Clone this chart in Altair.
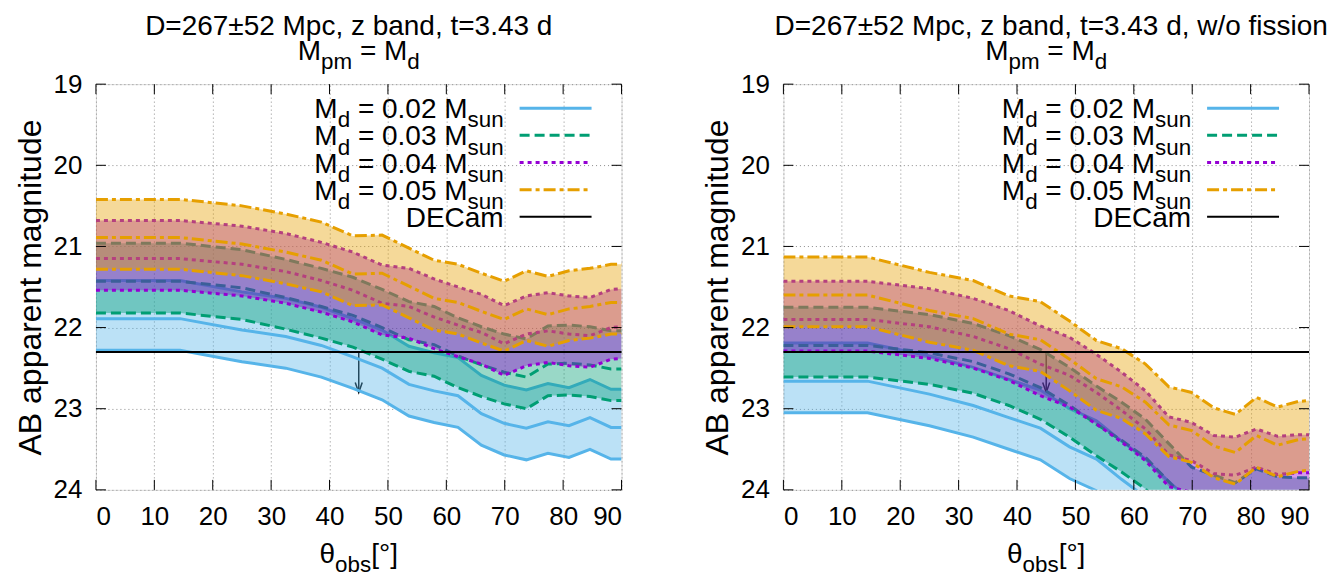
import altair as alt
import pandas as pd

# ---------------- data ----------------
THETA = [0, 14.4, 25.0, 32.5, 38.6, 44.0, 49.0, 53.6, 57.9, 62.0, 66.0, 69.9,
         73.7, 77.4, 81.0, 84.6, 88.2, 90]
MODELS = ["0.02", "0.03", "0.04", "0.05"]

# left panel (with fission): D=215 (bright), 267 (center), 319 (faint) Mpc
L02_BRIGHT = [21.42, 21.42, 21.56, 21.64, 21.75, 21.89, 22.03, 22.23, 22.31, 22.37, 22.59, 22.71, 22.77, 22.69, 22.74, 22.64, 22.76, 22.76]
L02_CENTER = [21.89, 21.89, 22.03, 22.11, 22.22, 22.36, 22.50, 22.70, 22.78, 22.84, 23.06, 23.18, 23.24, 23.16, 23.21, 23.11, 23.23, 23.23]
L02_FAINT = [22.28, 22.28, 22.42, 22.50, 22.61, 22.75, 22.89, 23.09, 23.17, 23.23, 23.45, 23.57, 23.63, 23.55, 23.60, 23.50, 23.62, 23.62]
L03_BRIGHT = [20.96, 20.96, 21.04, 21.16, 21.27, 21.38, 21.53, 21.68, 21.74, 21.88, 21.99, 22.08, 22.14, 21.98, 21.97, 21.99, 22.04, 22.04]
L03_CENTER = [21.43, 21.43, 21.51, 21.63, 21.74, 21.85, 22.00, 22.15, 22.21, 22.35, 22.46, 22.55, 22.61, 22.45, 22.44, 22.46, 22.51, 22.51]
L03_FAINT = [21.82, 21.82, 21.90, 22.02, 22.13, 22.24, 22.39, 22.54, 22.60, 22.74, 22.85, 22.94, 23.00, 22.84, 22.83, 22.85, 22.90, 22.90]
L04_BRIGHT = [20.68, 20.68, 20.75, 20.84, 20.95, 21.07, 21.23, 21.27, 21.40, 21.50, 21.59, 21.73, 21.61, 21.57, 21.61, 21.63, 21.53, 21.52]
L04_CENTER = [21.15, 21.15, 21.22, 21.31, 21.42, 21.54, 21.70, 21.74, 21.87, 21.97, 22.06, 22.20, 22.08, 22.04, 22.08, 22.10, 22.00, 21.99]
L04_FAINT = [21.54, 21.54, 21.61, 21.70, 21.81, 21.93, 22.09, 22.13, 22.26, 22.36, 22.45, 22.59, 22.47, 22.43, 22.47, 22.49, 22.39, 22.38]
L05_BRIGHT = [20.42, 20.42, 20.50, 20.60, 20.70, 20.87, 20.86, 21.02, 21.17, 21.22, 21.33, 21.43, 21.30, 21.37, 21.30, 21.27, 21.22, 21.22]
L05_CENTER = [20.89, 20.89, 20.97, 21.07, 21.17, 21.34, 21.33, 21.49, 21.64, 21.69, 21.80, 21.90, 21.77, 21.84, 21.77, 21.74, 21.69, 21.69]
L05_FAINT = [21.28, 21.28, 21.36, 21.46, 21.56, 21.73, 21.72, 21.88, 22.03, 22.08, 22.19, 22.29, 22.16, 22.23, 22.16, 22.13, 22.08, 22.08]

# right panel (w/o fission)
R02_BRIGHT = [22.19, 22.19, 22.35, 22.49, 22.64, 22.77, 23.00, 23.15, 23.40, 23.62, 23.90, 24.15, 24.30, 24.40, 24.30, 24.40, 24.40, 24.40]
R02_CENTER = [22.66, 22.66, 22.82, 22.96, 23.11, 23.24, 23.47, 23.62, 23.87, 24.09, 24.37, 24.62, 24.77, 24.87, 24.77, 24.87, 24.87, 24.87]
R02_FAINT = [23.05, 23.05, 23.21, 23.35, 23.50, 23.63, 23.86, 24.01, 24.26, 24.48, 24.76, 25.01, 25.16, 25.26, 25.16, 25.26, 25.26, 25.26]
R03_BRIGHT = [21.75, 21.75, 21.84, 21.95, 22.10, 22.27, 22.49, 22.72, 22.92, 23.13, 23.43, 23.72, 23.82, 23.91, 23.74, 23.84, 23.85, 23.85]
R03_CENTER = [22.22, 22.22, 22.31, 22.42, 22.57, 22.74, 22.96, 23.19, 23.39, 23.60, 23.90, 24.19, 24.29, 24.38, 24.21, 24.31, 24.32, 24.32]
R03_FAINT = [22.61, 22.61, 22.70, 22.81, 22.96, 23.13, 23.35, 23.58, 23.78, 23.99, 24.29, 24.58, 24.68, 24.77, 24.60, 24.70, 24.71, 24.71]
R04_BRIGHT = [21.43, 21.43, 21.52, 21.64, 21.79, 21.98, 22.12, 22.33, 22.55, 22.78, 23.10, 23.17, 23.33, 23.35, 23.25, 23.34, 23.32, 23.32]
R04_CENTER = [21.90, 21.90, 21.99, 22.11, 22.26, 22.45, 22.59, 22.80, 23.02, 23.25, 23.57, 23.64, 23.80, 23.82, 23.72, 23.81, 23.79, 23.79]
R04_FAINT = [22.29, 22.29, 22.38, 22.50, 22.65, 22.84, 22.98, 23.19, 23.41, 23.64, 23.96, 24.03, 24.19, 24.21, 24.11, 24.20, 24.18, 24.18]
R05_BRIGHT = [21.13, 21.13, 21.32, 21.42, 21.61, 21.68, 21.92, 22.16, 22.26, 22.45, 22.73, 22.80, 22.99, 23.07, 22.86, 22.98, 22.91, 22.90]
R05_CENTER = [21.60, 21.60, 21.79, 21.89, 22.08, 22.15, 22.39, 22.63, 22.73, 22.92, 23.20, 23.27, 23.46, 23.54, 23.33, 23.45, 23.38, 23.37]
R05_FAINT = [21.99, 21.99, 22.18, 22.28, 22.47, 22.54, 22.78, 23.02, 23.12, 23.31, 23.59, 23.66, 23.85, 23.93, 23.72, 23.84, 23.77, 23.76]

DECAM_LIMIT = 22.3
ARROW_THETA = 45
ARROW_END = 22.8
X_TICKS = [0, 10, 20, 30, 40, 50, 60, 70, 80, 90]
Y_TICKS = [19, 20, 21, 22, 23, 24]
TITLES = ["D=267±52 Mpc, z band, t=3.43 d",
          "D=267±52 Mpc, z band, t=3.43 d, w/o fission"]

LEFT = {"0.02": (L02_BRIGHT, L02_CENTER, L02_FAINT),
        "0.03": (L03_BRIGHT, L03_CENTER, L03_FAINT),
        "0.04": (L04_BRIGHT, L04_CENTER, L04_FAINT),
        "0.05": (L05_BRIGHT, L05_CENTER, L05_FAINT)}
RIGHT = {"0.02": (R02_BRIGHT, R02_CENTER, R02_FAINT),
         "0.03": (R03_BRIGHT, R03_CENTER, R03_FAINT),
         "0.04": (R04_BRIGHT, R04_CENTER, R04_FAINT),
         "0.05": (R05_BRIGHT, R05_CENTER, R05_FAINT)}

# ---------------- style ----------------
COLORS = {"0.02": "#56b4e9", "0.03": "#009e73", "0.04": "#9400d3", "0.05": "#e69f00"}
DASH = {"0.02": None, "0.03": [10, 5], "0.04": [4, 4], "0.05": [12, 4, 4, 4]}
W, H = 526, 406
FONT = "Liberation Sans"
FS_TICK = 26
FS_TITLE = 28
FS_LEG = 28
FS_YT = 32
SUB = 0.8
SHIFT = 0.33
LW = 3

AW = {' ': 278, '±': 584, ',': 278, '.': 278, '/': 278, '=': 584, 'A': 667, 'B': 667,
      'C': 722, 'D': 722, 'E': 667, 'M': 833, '[': 278, ']': 278, 'a': 556, 'b': 556,
      'c': 500, 'd': 556, 'e': 556, 'f': 278, 'i': 222, 'm': 833, 'n': 556, 'o': 556,
      'p': 556, 's': 500, 't': 278, 'u': 556, 'w': 722, 'z': 500, '°': 400, 'θ': 556}


def tw(s, size):
    return sum(AW.get(ch, 556) for ch in s) * size / 1000.0


def text_layer(txt, px, py, size, align="left", baseline="alphabetic"):
    return alt.Chart(pd.DataFrame({"s": [txt]})).mark_text(
        align=align, baseline=baseline, fontSize=size, font=FONT, color="black"
    ).encode(x=alt.value(px), y=alt.value(py), text="s:N")


def rich(parts, y, size, right=None, center=None):
    widths = [tw(t, size * (SUB if s else 1)) for t, s in parts]
    total = sum(widths)
    x = right - total if right is not None else center - total / 2
    out = []
    for (t, s), w in zip(parts, widths):
        fs = size * SUB if s else size
        lead = len(t) - len(t.lstrip(" "))
        out.append(text_layer(t.strip(), x + tw(" ", fs) * lead,
                              y + (SHIFT * size if s else 0), fs))
        x += w
    return out


xs = alt.Scale(domain=[0, 90], nice=False, zero=False)
ys = alt.Scale(domain=[19, 24], nice=False, zero=False, reverse=True)
x_axis = alt.Axis(values=X_TICKS, grid=True, gridDash=[1, 3], gridColor="#8c8c8c",
                  gridWidth=1, ticks=False, domain=False, labelFontSize=FS_TICK,
                  labelFont=FONT, labelColor="black", labelPadding=14, title=None)
y_axis = alt.Axis(values=Y_TICKS, grid=True, gridDash=[1, 3], gridColor="#8c8c8c",
                  gridWidth=1, ticks=False, domain=False, labelFontSize=FS_TICK,
                  labelFont=FONT, labelColor="black", labelPadding=14,
                  title="AB apparent magnitude", titleFontSize=FS_YT, titleFont=FONT,
                  titleFontWeight="normal", titleColor="black", titlePadding=6)


def X(f):
    return alt.X(f, type="quantitative", scale=xs, axis=x_axis)


def Y(f):
    return alt.Y(f, type="quantitative", scale=ys, axis=y_axis)


def panel(series, title, title_cx):
    layers = []
    arrow_df = pd.DataFrame({"theta": [ARROW_THETA], "top": [DECAM_LIMIT], "end": [ARROW_END]})
    layers.append(alt.Chart(arrow_df).mark_rule(color="black", strokeWidth=1.5)
                  .encode(x=X("theta"), y=Y("top"), y2="end"))
    layers.append(alt.Chart(arrow_df).mark_point(shape="M-0.35,-1L0,0L0.35,-1", size=400,
                                                 filled=False, color="black",
                                                 strokeWidth=1.5, opacity=1)
                  .encode(x=X("theta"), y=Y("end")))
    for m in MODELS:
        b, c, f = series[m]
        df = pd.DataFrame({"theta": THETA, "bright": b, "center": c, "faint": f})
        base = alt.Chart(df)
        layers.append(base.mark_area(color=COLORS[m], opacity=0.4, clip=True)
                      .encode(x=X("theta"), y=Y("bright"), y2="faint"))
        for col in ["bright", "center", "faint"]:
            kw = dict(color=COLORS[m], strokeWidth=LW, clip=True)
            if DASH[m]:
                kw["strokeDash"] = DASH[m]
            layers.append(base.mark_line(**kw).encode(x=X("theta"), y=Y(col)))
    layers.append(alt.Chart(pd.DataFrame({"mag": [DECAM_LIMIT]}))
                  .mark_rule(color="black", strokeWidth=2).encode(y=Y("mag")))

    # legend
    one = pd.DataFrame({"k": [0]})
    for i, m in enumerate(MODELS + ["DECam"]):
        sy = 24 + 27.2 * i
        kw = dict(color=COLORS.get(m, "black"), strokeWidth=LW if m != "DECam" else 2)
        if m in DASH and DASH[m]:
            kw["strokeDash"] = DASH[m]
        layers.append(alt.Chart(one).mark_rule(**kw)
                      .encode(x=alt.value(424), x2=alt.value(496), y=alt.value(sy)))
        if m == "DECam":
            layers.append(text_layer("DECam", 408, sy + 0.36 * FS_LEG, FS_LEG, align="right"))
        else:
            layers += rich([("M", False), ("d", True), (" = " + m + " M", False), ("sun", True)],
                           sy + 0.36 * FS_LEG, FS_LEG, right=408)

    # inward ticks on all four sides
    xt = pd.DataFrame({"theta": X_TICKS})
    yt = pd.DataFrame({"mag": Y_TICKS})
    layers.append(alt.Chart(xt).mark_rule(color="black", strokeWidth=1)
                  .encode(x=X("theta"), y=alt.value(H), y2=alt.value(H - 10)))
    layers.append(alt.Chart(xt).mark_rule(color="black", strokeWidth=1)
                  .encode(x=X("theta"), y=alt.value(0), y2=alt.value(10)))
    layers.append(alt.Chart(yt).mark_rule(color="black", strokeWidth=1)
                  .encode(y=Y("mag"), x=alt.value(0), x2=alt.value(10)))
    layers.append(alt.Chart(yt).mark_rule(color="black", strokeWidth=1)
                  .encode(y=Y("mag"), x=alt.value(W), x2=alt.value(W - 10)))

    # titles
    layers.append(text_layer(title, title_cx, -71, FS_TITLE, align="center", baseline="top"))
    layers += rich([("M", False), ("pm", True), (" = M", False), ("d", True)], -24, FS_TITLE,
                   center=W / 2)
    layers += rich([("θ", False), ("obs", True), ("[°]", False)], H + 73, FS_TITLE,
                   center=W / 2)

    return alt.layer(*layers).properties(width=W, height=H)


left = panel(LEFT, TITLES[0], 253)
right = panel(RIGHT, TITLES[1], 268)

chart = alt.hconcat(left, right, spacing=77).configure_view(
    stroke="black", strokeWidth=1.5
).configure(background="white", padding={"left": 5, "top": 4, "right": 0, "bottom": 5})

chart.save("out.html", embed_options={"renderer": "svg", "actions": False})
